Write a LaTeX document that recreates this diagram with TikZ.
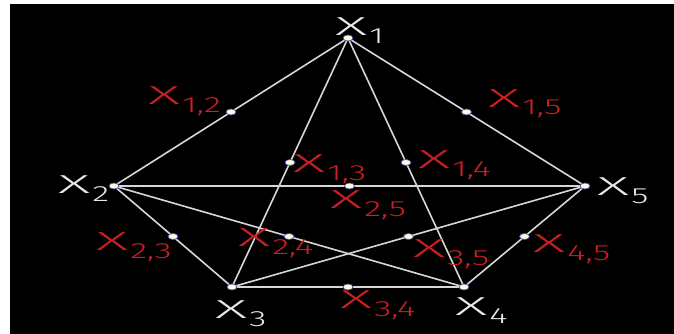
\documentclass[tikz,border=0pt]{standalone}
\usepackage{fontspec}
\setmainfont{Fira Sans Light}
\usetikzlibrary{calc,shapes.geometric}
\definecolor{lblred}{RGB}{205,30,35}
\definecolor{edgegray}{RGB}{215,215,215}
\definecolor{lblwhite}{RGB}{232,232,232}
\newcommand{\Xlab}[1]{\scalebox{2.4}[1]{X}\kern2pt\raisebox{-8pt}{\scalebox{1.6}[1]{\fontsize{22}{22}\selectfont #1}}}
\tikzset{
  edge/.style={draw=edgegray, line width=1.6pt},
  dot/.style={ellipse, minimum width=10pt, minimum height=6pt, inner sep=0pt,
    fill=white!85!yellow, draw=gray!60!blue, line width=0.7pt},
  vlab/.style={anchor=base west, inner sep=0pt, text=lblwhite, font=\fontsize{26}{26}\selectfont},
  elab/.style={anchor=base west, inner sep=0pt, text=lblred, font=\fontsize{26}{26}\selectfont},
}
\begin{document}
\begin{tikzpicture}[x=1pt,y=-1pt]
\fill[white] (0,0) rectangle (674,334);
\fill[black] (10,4) rectangle (674,334);
\useasboundingbox (0,0) rectangle (674,334);
% vertices
\coordinate (v1) at (348,38);
\coordinate (v2) at (114,186);
\coordinate (v3) at (232,287);
\coordinate (v4) at (464,287);
\coordinate (v5) at (585,186);
% edges
\draw[edge] (v1) -- (v2);
\draw[edge] (v1) -- (v3);
\draw[edge] (v1) -- (v4);
\draw[edge] (v1) -- (v5);
\draw[edge] (v2) -- (v3);
\draw[edge] (v2) -- (v4);
\draw[edge] (v2) -- (v5);
\draw[edge] (v3) -- (v4);
\draw[edge] (v3) -- (v5);
\draw[edge] (v4) -- (v5);
% dots
\node[dot] (d1) at (v1) {};
\node[dot] (d2) at (v2) {};
\node[dot] (d3) at (v3) {};
\node[dot] (d4) at (v4) {};
\node[dot] (d5) at (v5) {};
\node[dot] (m12) at ($(v1)!0.5!(v2)$) {};
\node[dot] (m13) at ($(v1)!0.5!(v3)$) {};
\node[dot] (m14) at ($(v1)!0.5!(v4)$) {};
\node[dot] (m15) at ($(v1)!0.5!(v5)$) {};
\node[dot] (m23) at ($(v2)!0.5!(v3)$) {};
\node[dot] (m24) at ($(v2)!0.5!(v4)$) {};
\node[dot] (m25) at ($(v2)!0.5!(v5)$) {};
\node[dot] (m34) at ($(v3)!0.5!(v4)$) {};
\node[dot] (m35) at ($(v3)!0.5!(v5)$) {};
\node[dot] (m45) at ($(v4)!0.5!(v5)$) {};
% vertex labels
\node[vlab] (l1) at (335,36) {\Xlab{1}};
\node[vlab] (l2) at (58,193) {\Xlab{2}};
\node[vlab] (l3) at (215,318) {\Xlab{3}};
\node[vlab] (l4) at (455,315) {\Xlab{4}};
\node[vlab] (l5) at (597,195) {\Xlab{5}};
% edge labels
\node[elab] (l12) at (148,105) {\Xlab{1,2}};
\node[elab] (l15) at (488,107) {\Xlab{1,5}};
\node[elab] (l13) at (293,172) {\Xlab{1,3}};
\node[elab] (l14) at (418,168) {\Xlab{1,4}};
\node[elab] (l25) at (330,208) {\Xlab{2,5}};
\node[elab] (l23) at (96,250) {\Xlab{2,3}};
\node[elab] (l24) at (238,246) {\Xlab{2,4}};
\node[elab] (l35) at (413,257) {\Xlab{3,5}};
\node[elab] (l45) at (533,252) {\Xlab{4,5}};
\node[elab] (l34) at (340,308) {\Xlab{3,4}};
\end{tikzpicture}
\end{document}
